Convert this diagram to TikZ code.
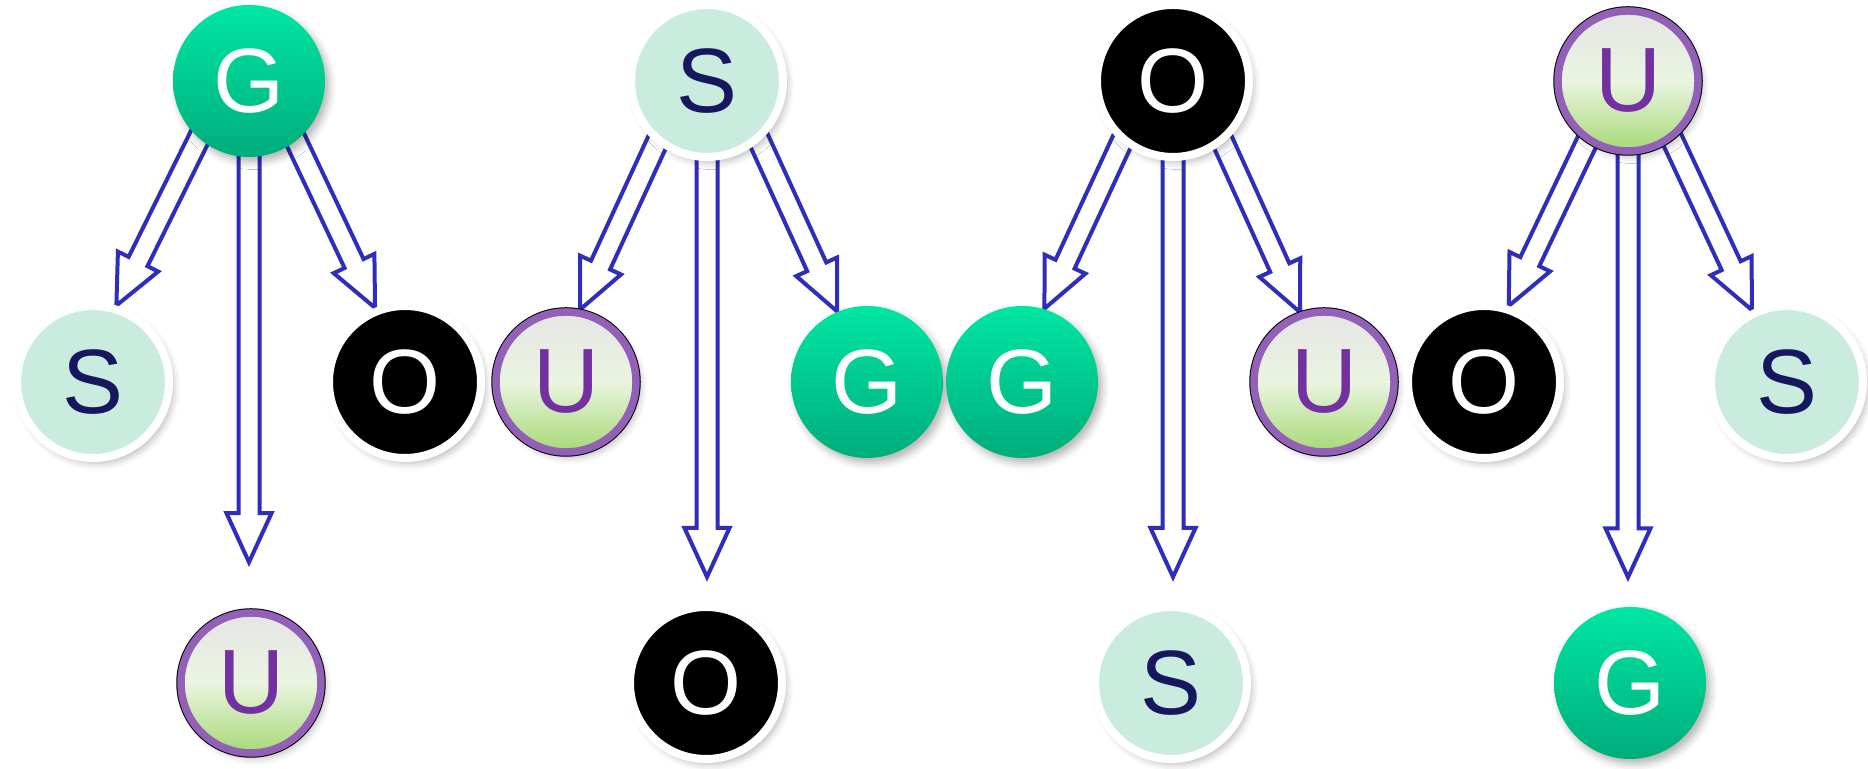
\documentclass[tikz,border=0pt]{standalone}
\usepackage{fontspec}
\setmainfont{Liberation Sans}
\usetikzlibrary{calc,backgrounds,shadows.blur}

\definecolor{arrowblue}{HTML}{2E2EBA}
\definecolor{gtop}{HTML}{00E6A3}
\definecolor{gbot}{HTML}{00AD7D}
\definecolor{smint}{HTML}{CAECDE}
\definecolor{snavy}{HTML}{17175F}
\definecolor{uring}{HTML}{9260B6}
\definecolor{utext}{HTML}{7330A0}
\definecolor{ugreen}{HTML}{A6D977}
\definecolor{ulight}{HTML}{EAF4E0}

% sizes of the hollow arrows
\newcommand{\shaftw}{0.105cm}
\newcommand{\headw}{0.225cm}
\newcommand{\headlen}{0.49cm}

% hollow block arrow from #1 to #2
\newcommand{\hollowarrow}[2]{%
  \coordinate (ha) at #1;
  \coordinate (hb) at #2;
  \coordinate (hs) at ($(ha)!-8pt!(hb)$);
  \coordinate (hc) at ($(hb)!\headlen!(ha)$);
  \draw[hollow] ($(hs)!\shaftw!90:(hb)$) -- ($(hc)!\shaftw!90:(hb)$)
    -- ($(hc)!\headw!90:(hb)$) -- (hb) -- ($(hc)!\headw!-90:(hb)$)
    -- ($(hc)!\shaftw!-90:(hb)$) -- ($(hs)!\shaftw!-90:(hb)$);
}

\tikzset{
  ball/.style={circle, minimum size=1.52cm, inner sep=0pt,
    font=\fontsize{26}{26}\selectfont,
    blur shadow={shadow xshift=0.04cm, shadow yshift=-0.05cm, shadow opacity=30}},
  gnode/.style={ball, top color=gtop, bottom color=gbot, text=white},
  snode/.style={ball, fill=smint, draw=white, line width=0.08cm, text=snavy},
  onode/.style={ball, fill=black, draw=white, line width=0.08cm, text=white},
  unode/.style={ball, minimum size=1.40cm, top color=gray!20, bottom color=ugreen,
    middle color=ulight, preaction={draw=black, line width=0.095cm},
    draw=uring, line width=0.075cm, text=utext},
  hollow/.style={draw=arrowblue, line width=0.04cm, fill=white}
}

\begin{document}
\begin{tikzpicture}
\useasboundingbox (0,0) rectangle (18.68,7.69);

% Top row
\node[gnode] (topG) at (2.49,6.88) {G};
\node[snode] (topS) at (7.07,6.88) {S};
\node[onode] (topO) at (11.73,6.88) {O};
\node[unode] (topU) at (16.28,6.88) {U};

% Middle row
\node[snode] (midS1) at (0.93,3.87) {S};
\node[onode] (midO1) at (4.05,3.87) {O};
\node[unode] (midU2) at (5.66,3.87) {U};
\node[gnode] (midG2) at (8.67,3.87) {G};
\node[gnode] (midG3) at (10.22,3.87) {G};
\node[unode] (midU3) at (13.24,3.87) {U};
\node[onode] (midO4) at (14.84,3.87) {O};
\node[snode] (midS4) at (17.87,3.87) {S};

% Bottom row
\node[unode] (botU) at (2.51,0.86) {U};
\node[onode] (botO) at (7.06,0.86) {O};
\node[snode] (botS) at (11.71,0.86) {S};
\node[gnode] (botG) at (16.30,0.86) {G};

% Arrows behind the balls
\begin{pgfonlayer}{background}
\hollowarrow{(topG.-131)}{(midS1.73)}
\hollowarrow{(topG.south)}{($(topG.south |- botU.north)+(0,0.47)$)}
\hollowarrow{(topG.-52)}{(midO1.112)}

\hollowarrow{(topS.-129)}{(midU2.79)}
\hollowarrow{(topS.south)}{($(topS.south |- botO.north)+(0,0.26)$)}
\hollowarrow{(topS.-49)}{(midG2.113)}

\hollowarrow{(topO.-130)}{(midG3.73)}
\hollowarrow{(topO.south)}{($(topO.south |- botS.north)+(0,0.26)$)}
\hollowarrow{(topO.-51)}{(midU3.109)}

\hollowarrow{(topU.-124)}{(midO4.72)}
\hollowarrow{(topU.south)}{($(topU.south |- botG.north)+(0,0.29)$)}
\hollowarrow{(topU.-53)}{(midS4.116)}
\end{pgfonlayer}
\end{tikzpicture}
\end{document}
